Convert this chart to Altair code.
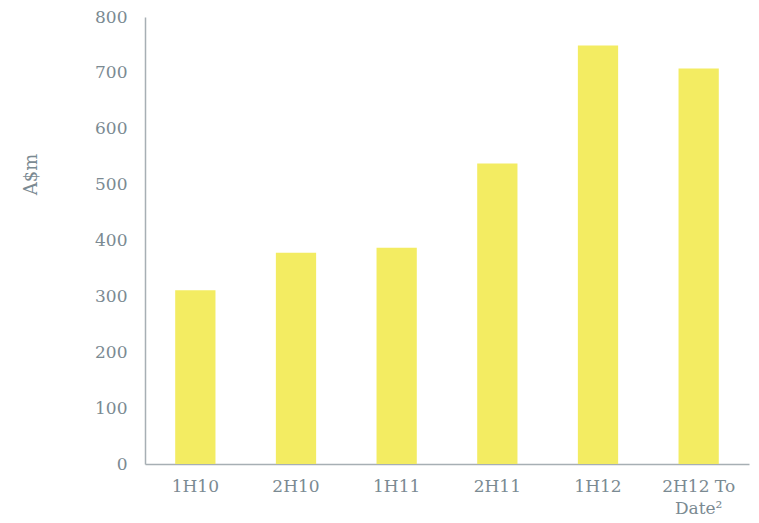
import altair as alt
import pandas as pd

categories = ["1H10", "2H10", "1H11", "2H11", "1H12", "2H12 To|Date²"]
values = [311, 378, 387, 538, 749, 708]

df = pd.DataFrame({"period": categories, "value": values})

FONT = "DejaVu Serif"
LABEL = "#7b8a92"
AXIS = "#a7afb4"

chart = alt.Chart(df).mark_bar(color="#F3EC62").encode(
    x=alt.X(
        "period:N",
        sort=categories,
        scale=alt.Scale(paddingInner=0.6, paddingOuter=0.3, align=0.5),
        axis=alt.Axis(
            title=None,
            labelAngle=0,
            labelExpr="split(datum.label, '|')",
            labelFont=FONT,
            labelFontSize=17,
            labelColor=LABEL,
            labelPadding=14,
            labelLineHeight=22,
            labelBaseline="top",
            ticks=False,
            tickSize=0,
            domainColor=AXIS,
            domainWidth=1.5,
            grid=False,
        ),
    ),
    y=alt.Y(
        "value:Q",
        scale=alt.Scale(domain=[0, 800], nice=False),
        axis=alt.Axis(
            title="A$m",
            values=[0, 100, 200, 300, 400, 500, 600, 700, 800],
            labelFont=FONT,
            labelFontSize=17,
            labelColor=LABEL,
            labelPadding=18,
            ticks=False,
            tickSize=0,
            domainColor=AXIS,
            domainWidth=1.5,
            grid=False,
            titleFont=FONT,
            titleFontSize=18,
            titleFontWeight="normal",
            titleColor=LABEL,
            titleAngle=-90,
            titleX=-114,
            titleY=157,
            titleAlign="center",
            titleBaseline="middle",
        ),
    ),
).properties(
    width=604,
    height=447,
    background="white",
    autosize=alt.AutoSizeParams(type="none"),
    padding={"left": 145, "top": 17, "right": 10, "bottom": 59},
).configure_view(stroke=None, strokeWidth=0)

chart.save("out.html", embed_options={"renderer": "svg", "actions": False})
